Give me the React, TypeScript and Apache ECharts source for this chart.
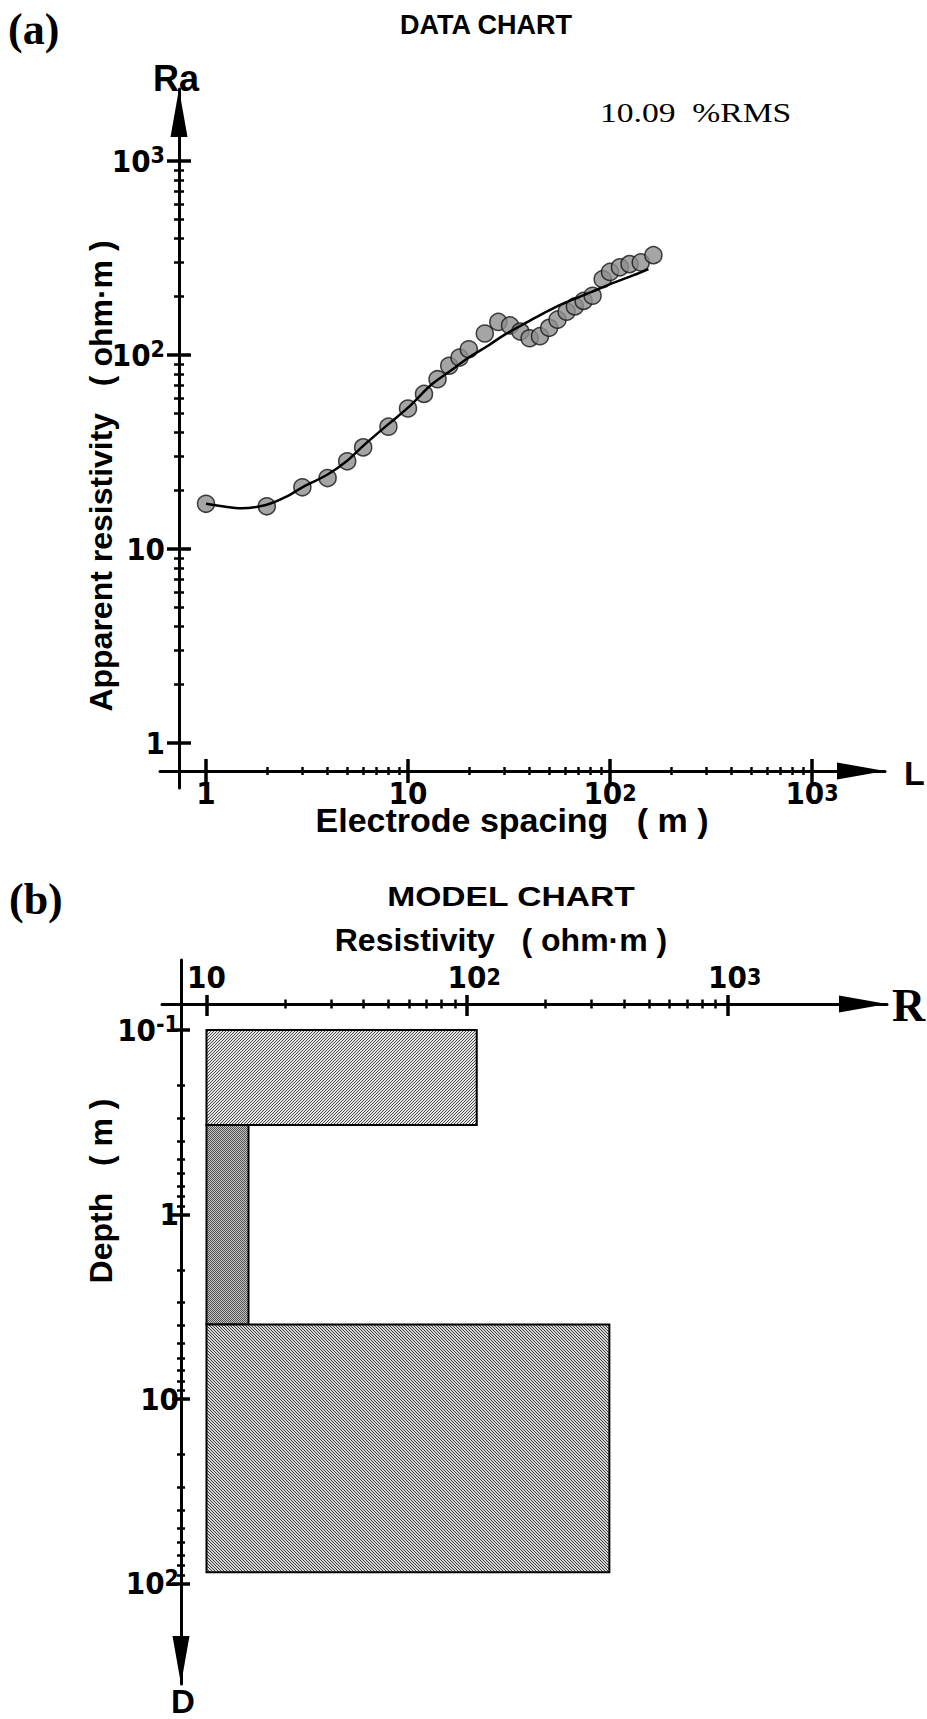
import React, { useEffect, useRef } from "react";
import * as echarts from "echarts";

// ---------- (a) DATA CHART ----------
const spacingObs = [1, 2, 3, 4, 5, 6, 8, 10, 12, 14, 16, 18, 20, 24, 28, 32, 36, 40, 45, 50, 55, 61, 67, 74, 82, 92, 100, 112, 125, 142, 164];
const rhoObs = [17.1, 16.6, 20.8, 23.2, 28.3, 33.4, 42.7, 53, 63, 75, 88, 97, 107, 129, 148, 142, 132, 122, 125, 138, 152, 167, 178, 190, 202, 246, 268, 283, 294, 300, 327];
const spacingFit = [1, 1.2, 1.5, 2, 2.5, 3, 4, 5, 6, 8, 10, 13, 16, 20, 25, 30, 40, 50, 60, 80, 100, 130, 155];
const rhoFit = [17.1, 16.6, 16.2, 16.9, 18.6, 20.8, 24.2, 28.5, 34, 44, 53.5, 70, 82, 97, 112, 127, 150, 170, 186, 210, 232, 257, 277];
const rmsText = "10.09  %RMS";
const decadesSpacing = [1, 10, 100, 1000];
const decadesRho = [1, 10, 100, 1000];

// ---------- (b) MODEL CHART ----------
const layerTop = [0.1, 0.327, 3.95];
const layerBottom = [0.327, 3.95, 87];
const layerRes = [109, 14.5, 352];
const modelResBase = 10;
const decadesRes = [10, 100, 1000];
const decadesDepth = [0.1, 1, 10, 100];

const SANS = "'Liberation Sans', Arial, Helvetica, sans-serif";
const SERIF = "'Liberation Serif', 'Times New Roman', serif";
const lg = Math.log10;

function fontAvailable(name: string) {
  const ctx = document.createElement("canvas").getContext("2d")!;
  const test = "mmmmmmmmwwwlli1010";
  ctx.font = "40px monospace";
  const w1 = ctx.measureText(test).width;
  ctx.font = `40px '${name}', monospace`;
  const w2 = ctx.measureText(test).width;
  return Math.abs(w1 - w2) > 0.5;
}

function minorsOf(decades: number[]) {
  const out: number[] = [];
  for (let i = 0; i < decades.length - 1; i++) {
    for (let m = 2; m <= 9; m++) out.push(lg(decades[i] * m));
  }
  return out;
}

function makeRich(fam: string, size: number, sup: number, lh: number, supLh: number) {
  const s = { fontFamily: fam, fontWeight: "bold", fontSize: sup, lineHeight: supLh, verticalAlign: "top", color: "#000" };
  return {
    b: { fontFamily: fam, fontWeight: "bold", fontSize: size, lineHeight: lh, color: "#000" },
    s,
    g: { ...s, color: "rgba(0,0,0,0)" },
  };
}

function fmtDecade(ghost: boolean) {
  return (v: number) => {
    const e = Math.round(v);
    if (e === 0) return "{b|1}";
    if (e === 1) return "{b|10}";
    return (ghost ? `{g|${e}}` : "") + `{b|10}{s|${e}}`;
  };
}

type AxisOpts = {
  gridIndex: number;
  min: number;
  max: number;
  position: string;
  offset: number;
  inverse?: boolean;
  majors: number[];
  minors: number[];
  majorOut: number;
  majorIn: number;
  minorOut: number;
  minorIn: number;
  symbol: string[];
  symbolOffset: number[];
  label: any;
};

function axisSet(o: AxisOpts) {
  const base = (main: boolean, vals: number[], len: number, inside: boolean, w: number) => ({
    type: "value",
    gridIndex: o.gridIndex,
    min: o.min,
    max: o.max,
    position: o.position,
    offset: o.offset,
    inverse: !!o.inverse,
    splitLine: { show: false },
    splitArea: { show: false },
    axisLine: {
      show: main,
      onZero: false,
      symbol: o.symbol,
      symbolSize: [17, 48],
      symbolOffset: o.symbolOffset,
      lineStyle: { color: "#000", width: 3 },
    },
    axisTick: {
      show: true,
      customValues: vals,
      length: len,
      inside,
      lineStyle: { color: "#000", width: w },
    },
    axisLabel: main ? { ...o.label, customValues: o.majors.map(lg) } : { show: false },
  });
  return [
    base(true, o.majors.map(lg), o.majorOut, false, 3.5),
    base(false, o.majors.map(lg), o.majorIn, true, 3.5),
    base(false, o.minors, o.minorOut, false, 2.5),
    base(false, o.minors, o.minorIn, true, 2.5),
  ];
}

function makePattern(kind: string) {
  const c = document.createElement("canvas");
  const n = kind === "check" ? 2 : 3;
  c.width = n;
  c.height = n;
  const ctx = c.getContext("2d")!;
  if (kind === "check") {
    ctx.fillStyle = "#c2c2c2";
    ctx.fillRect(0, 0, n, n);
    ctx.fillStyle = "#555";
    ctx.fillRect(0, 0, 1, 1);
    ctx.fillRect(1, 1, 1, 1);
  } else {
    ctx.fillStyle = kind === "slash" ? "#e6e6e6" : "#d6d6d6";
    ctx.fillRect(0, 0, n, n);
    ctx.fillStyle = kind === "slash" ? "#4a4a4a" : "#3c3c3c";
    for (let i = 0; i < n; i++) {
      if (kind === "slash") ctx.fillRect(i, n - 1 - i, 1, 1);
      else ctx.fillRect(i, i, 1, 1);
    }
  }
  return { image: c, repeat: "repeat" };
}

export default function App() {
  const ref = useRef<HTMLDivElement>(null);
  useEffect(() => {
    document.body.style.margin = "0";
    const chart = echarts.init(ref.current!, null, { renderer: "svg" });
    const patterns = [makePattern("slash"), makePattern("check"), makePattern("back")];

    let labelFam = SANS;
    let labelSize = 30;
    let supSize = 22;
    if (fontAvailable("Liberation Sans Narrow")) {
      labelFam = "'Liberation Sans Narrow', " + SANS;
      labelSize = 35;
      supSize = 26;
    } else if (fontAvailable("DejaVu Sans Condensed")) {
      labelFam = "'DejaVu Sans Condensed', " + SANS;
      labelSize = 31;
      supSize = 23;
    }
    const richX = makeRich(labelFam, labelSize, supSize, 24, 10);
    const richY = makeRich(labelFam, labelSize, supSize, 34, 20);

    const xA = axisSet({
      gridIndex: 0, min: -0.2277, max: 3.3614, position: "bottom", offset: -17,
      majors: decadesSpacing, minors: minorsOf(decadesSpacing),
      majorOut: 12, majorIn: 12, minorOut: 4, minorIn: 4,
      symbol: ["none", "triangle"], symbolOffset: [0, -24],
      label: { formatter: fmtDecade(false), rich: richX, margin: 10 },
    });
    const yA = axisSet({
      gridIndex: 0, min: -0.232, max: 3.371, position: "left", offset: -19,
      majors: decadesRho, minors: minorsOf(decadesRho),
      majorOut: 12, majorIn: 12, minorOut: 5, minorIn: 5,
      symbol: ["none", "triangle"], symbolOffset: [0, -24],
      label: { formatter: fmtDecade(false), rich: richY, margin: 14 },
    });
    const xB = axisSet({
      gridIndex: 1, min: 0.8292, max: 3.6123, position: "top", offset: -44,
      majors: decadesRes, minors: minorsOf(decadesRes),
      majorOut: 9, majorIn: 12, minorOut: 4.5, minorIn: 4.5,
      symbol: ["none", "triangle"], symbolOffset: [0, -24],
      label: { formatter: fmtDecade(true), rich: richX, margin: 15 },
    });
    const yB = axisSet({
      gridIndex: 1, min: -1.3794, max: 2.545, position: "left", offset: -19, inverse: true,
      majors: decadesDepth, minors: minorsOf(decadesDepth),
      majorOut: 9, majorIn: 9, minorOut: 4, minorIn: 4,
      symbol: ["triangle", "none"], symbolOffset: [24, 0],
      label: { formatter: fmtDecade(false), rich: richY, margin: 2 },
    });

    const bold = (size: number) => `bold ${size}px ${SANS}`;
    const txt = (text: string, x: number, y: number, font: string, align = "center", rotation = 0, scaleX = 1) => ({
      type: "text",
      x,
      y,
      rotation,
      scaleX,
      silent: true,
      style: { text, font, fill: "#000", textAlign: align, textVerticalAlign: "middle" },
    });

    chart.setOption({
      animation: false,
      backgroundColor: "#fff",
      grid: [
        { left: 160, top: 89, width: 725, height: 699 },
        { left: 162, top: 960, width: 725, height: 724 },
      ],
      xAxis: [...xA, ...xB],
      yAxis: [...yA, ...yB],
      series: [
        {
          type: "scatter",
          xAxisIndex: 0,
          yAxisIndex: 0,
          data: spacingObs.map((x, i) => [lg(x), lg(rhoObs[i])]),
          symbolSize: 17,
          itemStyle: { color: "#8f8f8f", borderColor: "#151515", borderWidth: 1.5 },
          z: 3,
        },
        {
          type: "line",
          xAxisIndex: 0,
          yAxisIndex: 0,
          data: spacingFit.map((x, i) => [lg(x), lg(rhoFit[i])]),
          smooth: 0.35,
          symbol: "none",
          lineStyle: { color: "#000", width: 2.5 },
          z: 4,
        },
        {
          type: "custom",
          xAxisIndex: 4,
          yAxisIndex: 4,
          data: layerTop.map((t, i) => [lg(t), lg(layerBottom[i]), lg(layerRes[i]), i]),
          encode: { x: 2, y: [0, 1] },
          renderItem: (params: any, api: any) => {
            const i = api.value(3);
            const a = api.coord([lg(modelResBase), api.value(0)]);
            const b = api.coord([api.value(2), api.value(1)]);
            return {
              type: "rect",
              shape: {
                x: Math.min(a[0], b[0]),
                y: Math.min(a[1], b[1]),
                width: Math.abs(b[0] - a[0]),
                height: Math.abs(b[1] - a[1]),
              },
              style: { fill: patterns[i], stroke: "#000", lineWidth: 2 },
            };
          },
          z: 2,
        },
      ],
      graphic: [
        txt("(a)", 8, 29, `bold 44px ${SERIF}`, "left"),
        txt("DATA CHART", 486, 25, bold(27)),
        txt("Ra", 153, 78, bold(36), "left"),
        txt(rmsText, 600, 112, `28px ${SERIF}`, "left", 0, 1.2),
        txt("L", 904, 773, bold(34), "left"),
        txt("Electrode spacing   ( m )", 512, 820, bold(34)),
        txt("Apparent resistivity   ( ohm·m )", 101, 476, bold(32), "center", Math.PI / 2),
        txt("(b)", 9, 899, `bold 44px ${SERIF}`, "left"),
        txt("MODEL CHART", 511, 896, bold(28), "center", 0, 1.2),
        txt("Resistivity   ( ohm·m )", 501, 940, bold(32)),
        txt("R", 892, 1005, `bold 46px ${SERIF}`, "left"),
        txt("Depth   ( m )", 101, 1191, bold(32), "center", Math.PI / 2),
        txt("D", 183, 1701, bold(33)),
      ],
    });
    return () => chart.dispose();
  }, []);
  return <div ref={ref} style={{ width: 927, height: 1719 }} />;
}
